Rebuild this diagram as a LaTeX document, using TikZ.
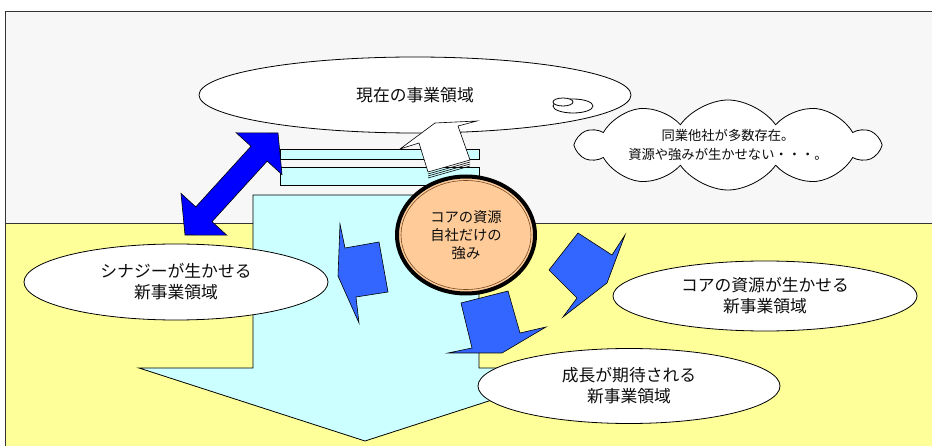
\documentclass[tikz,border=0pt]{standalone}
\usepackage{fontspec}
\newfontfamily\jp{Noto Sans CJK JP}
\usetikzlibrary{shapes.geometric,shapes.symbols}
\definecolor{bggray}{HTML}{F7F7F7}
\definecolor{bgyellow}{HTML}{FFFF99}
\definecolor{pale}{HTML}{CCFFFF}
\definecolor{deepblue}{HTML}{0000FF}
\definecolor{arrowblue}{HTML}{3366FF}
\definecolor{peach}{HTML}{FFCC99}
\tikzset{every node/.style={font=\jp\fontsize{16.8}{21}\selectfont,text=black!95,align=center},
 region/.style={draw=black!80,line width=.8pt},
 field/.style={ellipse,draw,fill=white,line width=.8pt,inner sep=0pt},
 blockarrow/.style={draw,line width=.6pt,line join=miter},
 bar/.style={draw,fill=pale,line width=.8pt}}
\begin{document}
\begin{tikzpicture}[x=1pt,y=-1pt]
\useasboundingbox (0,0) rectangle (932,446);\clip (0,0) rectangle (932,446);
% background
\fill[bggray] (5,11) rectangle (940,223);\fill[bgyellow] (5,223) rectangle (940,450);
\draw[region] (940,11) -- (5,11) -- (5,450);\draw[region] (5,223) -- (940,223);
\node[field,minimum width=432pt,minimum height=76pt] (now) at (415,95) {現在の事業領域};
% layers and big arrow
\foreach \t/\b in {149/159,167/185}{\draw[bar] (280,\t) rectangle (479,\b);}
\draw[bar] (253,195) -- (253,368) -- (139,368) -- (365,441) -- (591,368) -- (479,368) -- (479,195) -- cycle;
\draw[blockarrow,fill=deepblue] (278,133) -- (282,174.6) -- (267.2,161.1) -- (212,221.7) -- (226.8,235.2) -- (185,235) -- (181,193.4) -- (195.8,206.9) -- (251,146.3) -- (236.2,132.8) -- cycle;
\foreach \d in {6,4,2}{\draw[blockarrow,fill=white] (428,172+\d) -- (470,160+\d);}
\draw[blockarrow,fill=white] (400,149) -- (435,123) -- (477,121) -- (458,126) -- (470,160) -- (428,172) -- (419,143) -- cycle;
% core
\node[ellipse,fill=peach,draw,line width=4pt,minimum width=138pt,minimum height=117pt,inner sep=0pt,font=\jp\fontsize{14.3}{18}\selectfont] (core) at (466,235) {コアの資源\\自社だけの\\強み};
\draw[brown!60!black,line width=.6pt] (core.center) ellipse (65 and 54.5);
\draw[blockarrow,fill=arrowblue] (340,224) -- (345,248) -- (379,242) -- (388,292) -- (356,297) -- (359,323) -- (338,276) -- cycle;
\draw[blockarrow,fill=arrowblue] (461,303) -- (508,291) -- (520,333) -- (546,327) -- (502,353) -- (448,353) -- (472,348) -- cycle;
\draw[blockarrow,fill=arrowblue] (578,233) -- (612,255) -- (625,235) -- (607,283) -- (563,317) -- (577,298) -- (549,270) -- cycle;
% new fields
\node[field,minimum width=304pt,minimum height=76pt] (synergy) at (176,282) {シナジーが生かせる\\新事業領域};
\node[field,minimum width=304pt,minimum height=70pt] (coreuse) at (765,296) {コアの資源が生かせる\\新事業領域};
\node[field,minimum width=302pt,minimum height=75pt] (growth) at (629,386) {成長が期待される\\新事業領域};
% thought cloud
\node[cloud,draw,fill=white,line width=.8pt,cloud puffs=10,cloud puff arc=110,cloud ignores aspect,minimum width=300pt,minimum height=90pt,inner sep=0pt] (rival) at (728,145) {};
\node[font=\jp\fontsize{13.3}{19}\selectfont] (rivaltext) at (rival.center) {同業他社が多数存在。\\資源や強みが生かせない・・・。};
\draw[field] (573,106) ellipse (20 and 7);\draw[field] (563,102) ellipse (10 and 4);
\end{tikzpicture}
\end{document}
